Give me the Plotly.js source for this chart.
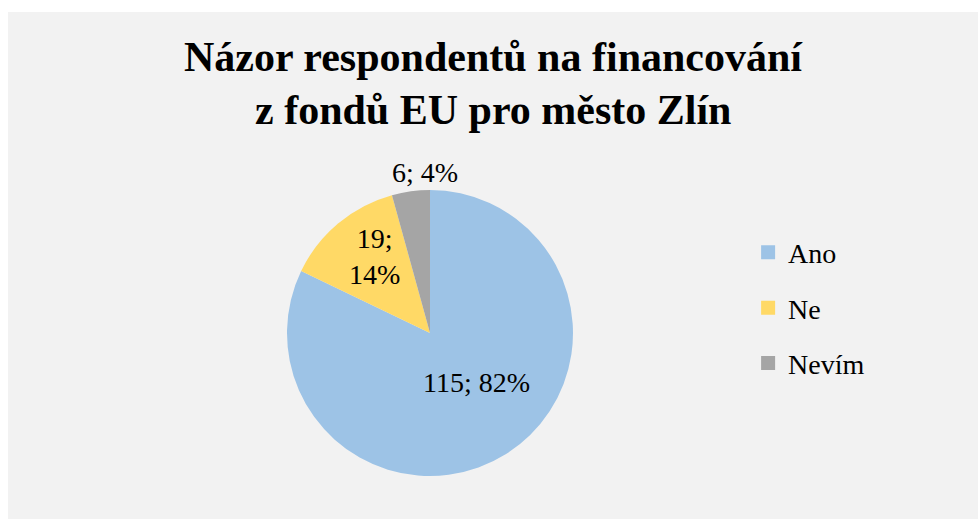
<!DOCTYPE html>
<html>
<head>
<meta charset="utf-8">
<script src="https://cdn.plot.ly/plotly-3.0.1.min.js"></script>
<style>
  html, body { margin: 0; padding: 0; background: #ffffff; }
  #chart { position: absolute; left: 8px; top: 12px; width: 970px; height: 507px; }
</style>
</head>
<body>
<div id="chart"></div>
<script>
const categories = ["Ano", "Ne", "Nevím"];
const counts = [115, 19, 6];
const sliceColors = ["#9dc3e6", "#ffd966", "#a5a5a5"];
const titleLines = ["Názor respondentů na financování", "z fondů EU pro město Zlín"];

const SERIF = "'Liberation Serif', 'Times New Roman', serif";
const total = counts.reduce((a, b) => a + b, 0);
const pct = counts.map(v => Math.round(100 * v / total) + "%");
const sliceLabels = [
  counts[0] + "; " + pct[0],
  counts[1] + ";<br>" + pct[1],
  counts[2] + "; " + pct[2]
];
// label anchor points (paper fractions) for each slice's text
const labelPos = [[0.4825, 0.269], [0.378, 0.517], [0.43, 0.684]];

const pie = {
  type: "pie",
  labels: categories,
  values: counts,
  sort: false,
  direction: "clockwise",
  rotation: 0,
  marker: { colors: sliceColors, line: { width: 0 } },
  textinfo: "none",
  hoverinfo: "none",
  automargin: false,
  showlegend: false,
  domain: { x: [0.2876, 0.5825], y: [0.0848, 0.6489] }
};

const legendTraces = categories.map((c, i) => ({
  type: "scatter",
  mode: "markers",
  x: [null], y: [null],
  name: c,
  legendgroup: c,
  showlegend: true,
  marker: { symbol: "square", size: 14, color: sliceColors[i] },
  hoverinfo: "none"
}));

const labelAnnotations = sliceLabels.map((t, i) => ({
  text: t,
  font: { family: SERIF, size: 28, color: "#000000" },
  xref: "paper", yref: "paper",
  x: labelPos[i][0], xanchor: "center",
  y: labelPos[i][1], yanchor: "middle",
  align: "center",
  showarrow: false
}));

const layout = {
  width: 970,
  height: 507,
  paper_bgcolor: "#f2f2f2",
  plot_bgcolor: "#f2f2f2",
  margin: { l: 0, r: 0, t: 0, b: 0 },
  xaxis: { visible: false },
  yaxis: { visible: false },
  title: {
    text: "<b>" + titleLines[0] + "</b>",
    font: { family: SERIF, size: 42, color: "#000000" },
    x: 0.5, xanchor: "center",
    y: 0.912, yanchor: "middle"
  },
  annotations: [
    {
      text: "<b>" + titleLines[1] + "</b>",
      font: { family: SERIF, size: 42, color: "#000000" },
      xref: "paper", yref: "paper",
      x: 0.5, xanchor: "center",
      y: 0.806, yanchor: "middle",
      showarrow: false
    }
  ].concat(labelAnnotations),
  showlegend: true,
  legend: {
    x: 0.763, xanchor: "left",
    y: 0.416, yanchor: "middle",
    bgcolor: "rgba(0,0,0,0)",
    font: { family: SERIF, size: 28, color: "#000000" },
    traceorder: "grouped",
    tracegroupgap: 16
  }
};

Plotly.newPlot("chart", [pie].concat(legendTraces), layout, { displayModeBar: false, staticPlot: true });
</script>
</body>
</html>
